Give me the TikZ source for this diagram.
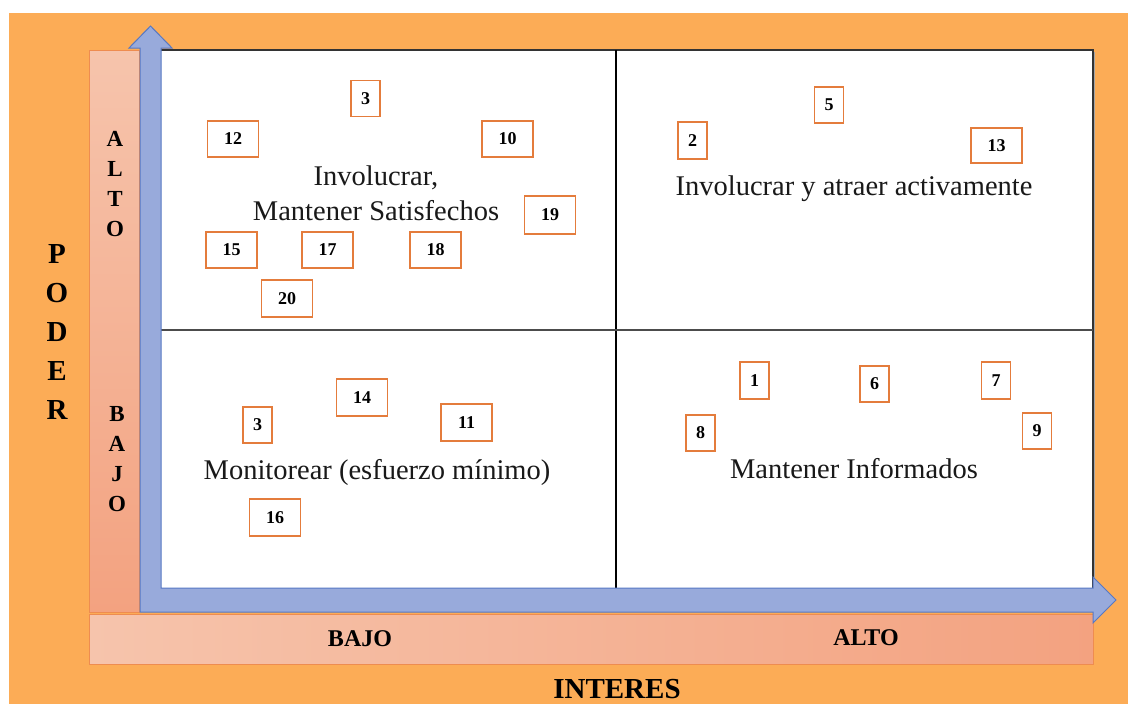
\documentclass[tikz,border=0pt]{standalone}
\usepackage{fontspec}
\setmainfont{Liberation Serif}
\begin{document}
\definecolor{bgorange}{RGB}{252,172,86}
\definecolor{salmon}{RGB}{244,176,148}
\definecolor{salmonlight}{RGB}{246,196,172}
\definecolor{salmondark}{RGB}{243,162,128}
\definecolor{salmonedge}{RGB}{238,140,80}
\definecolor{axisblue}{RGB}{152,170,219}
\definecolor{axisedge}{RGB}{86,120,196}
\definecolor{boxorange}{RGB}{228,124,60}
\begin{tikzpicture}[x=1pt,y=-1pt,
  numbox/.style={draw=boxorange,line width=1.4pt,fill=white,inner sep=0pt,
    minimum height=36pt,font=\fontsize{18}{20}\selectfont\bfseries},
  onebox/.style={numbox,minimum width=29pt},
  twobox/.style={numbox,minimum width=51pt},
  quadtext/.style={align=center,font=\fontsize{28.5}{35}\selectfont,text=black!90},
  axislbl/.style={font=\fontsize{24}{30}\selectfont\bfseries,align=center,text=black},
  gridline/.style={line width=1.6pt,black!80}]
\useasboundingbox (0,0) rectangle (1128,704);
% page and orange backdrop
\fill[white] (0,0) rectangle (1128,704);
\fill[bgorange] (9,13) rectangle (1128,704);

% salmon scale bars
\shade[top color=salmonlight,bottom color=salmondark,draw=salmonedge,line width=1pt]
  (89,50) rectangle (139,612);
\shade[left color=salmonlight,right color=salmondark,draw=salmonedge,line width=1pt]
  (89,614) rectangle (1093,664);

% matrix panel with soft shadow
\fill[black!35] (163,52) rectangle (1095,590);
\fill[white] (161,50) rectangle (1093,588);
\draw[gridline] (161,50) -- (1093,50) -- (1093,588);
\coordinate (midtop) at (616,50);
\coordinate (midbot) at (616,588);
\coordinate (midleft) at (161,330);
\coordinate (midright) at (1093,330);
\draw[line width=2pt,black] (midtop) -- (midbot);
\draw[line width=1.4pt,black!70] (midleft) -- (midright);

% L-shaped axis arrow
\draw[fill=axisblue,draw=axisedge,line width=1pt,line join=miter]
  (140,612) -- (140,48) -- (129,48) -- (150.5,26) -- (172,48) -- (161,48)
  -- (161,588) -- (1093,588) -- (1093,577) -- (1116,600) -- (1093,623)
  -- (1093,612) -- cycle;

% axis labels
\node[axislbl,font=\fontsize{23}{30}\selectfont\bfseries] (altoV) at (115,184) {A\\L\\T\\O};
\node[axislbl,font=\fontsize{23}{30}\selectfont\bfseries] (bajoV) at (117,459) {B\\A\\J\\O};
\node[axislbl,font=\fontsize{29}{39}\selectfont\bfseries] (poder) at (57,332) {P\\O\\D\\E\\R};
\node[axislbl] (bajoH) at (360,639) {BAJO};
\node[axislbl] (altoH) at (866,638) {ALTO};
\node[axislbl,font=\fontsize{29}{32}\selectfont\bfseries,anchor=base,inner sep=0pt] (interes) at (617,698) {INTERES};

% quadrant titles
\node[quadtext] (q1) at (376,193) {Involucrar,\\Mantener Satisfechos};
\node[quadtext] (q2) at (854,189) {Involucrar y atraer activamente};
\node[quadtext] (q3) at (377,472) {Monitorear (esfuerzo mínimo)};
\node[quadtext] (q4) at (854,469) {Mantener Informados};

% stakeholders: high power, low interest
\node[onebox] (s3a) at (365.5,98.5) {3};
\node[twobox] (s12) at (233,139) {12};
\node[twobox] (s10) at (507.5,139) {10};
\node[twobox,minimum height=38pt] (s19) at (550,215) {19};
\node[twobox] (s15) at (231.5,250) {15};
\node[twobox] (s17) at (327.5,250) {17};
\node[twobox] (s18) at (435.5,250) {18};
\node[twobox,minimum height=37pt] (s20) at (287,298.5) {20};

% high power, high interest
\node[onebox] (s5) at (829,105) {5};
\node[onebox,minimum height=37pt] (s2) at (692.5,140.5) {2};
\node[twobox,minimum height=35pt] (s13) at (996.5,145.5) {13};

% low power, low interest
\node[twobox,minimum height=37pt] (s14) at (362,397.5) {14};
\node[onebox] (s3b) at (257.5,425) {3};
\node[twobox,minimum height=37pt] (s11) at (466.5,422.5) {11};
\node[twobox,minimum height=37pt] (s16) at (275,517.5) {16};

% low power, high interest
\node[onebox,minimum height=37pt] (s1) at (754.5,380.5) {1};
\node[onebox] (s6) at (874.5,384) {6};
\node[onebox,minimum height=37pt] (s7) at (996,380.5) {7};
\node[onebox] (s8) at (700.5,433) {8};
\node[onebox] (s9) at (1037,431) {9};
\end{tikzpicture}
\end{document}
